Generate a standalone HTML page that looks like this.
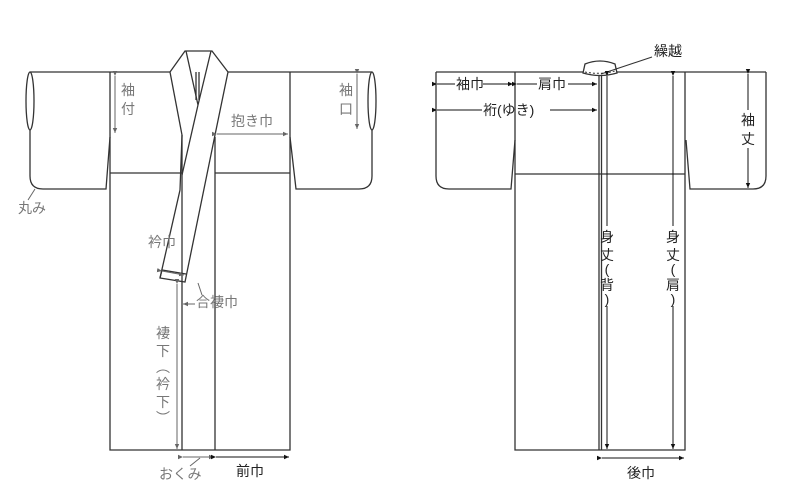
<!DOCTYPE html>
<html><head><meta charset="utf-8"><style>
html,body{margin:0;padding:0;background:#fff;}
svg{display:block;}
text{font-family:"Liberation Sans","Noto Sans CJK JP",sans-serif;font-size:14px;}
.g{fill:#777;}
.k{fill:#222;}
.c{text-anchor:middle;}
</style></head><body>
<svg width="800" height="500" viewBox="0 0 800 500" xmlns="http://www.w3.org/2000/svg">
<defs>
<marker id="ag" markerWidth="6" markerHeight="6" refX="5" refY="3" orient="auto" markerUnits="userSpaceOnUse"><path d="M0,0.8 L5,3 L0,5.2z" fill="#666"/></marker>
<marker id="ak" markerWidth="6" markerHeight="6" refX="5" refY="3" orient="auto" markerUnits="userSpaceOnUse"><path d="M0,0.8 L5,3 L0,5.2z" fill="#111"/></marker>
</defs>
<g fill="none" stroke="#333" stroke-width="1.3">
<path d="M30,72 L170,72"/>
<path d="M228,72 L372,72"/>
<ellipse cx="30" cy="101" rx="4" ry="29"/>
<path d="M30,130 L30,176 Q30,189 43,189 L106,189 L110,137"/>
<path d="M372,130 L372,176 Q372,189 359,189 L296,189 L290,137"/>
<ellipse cx="372" cy="101" rx="4" ry="29"/>
<path d="M110,72 L110,450 L290,450 L290,72"/>
<path d="M110,173 L182,173 M215,173 L290,173"/>
<path d="M182,135 L182,450 M215,137 L215,450"/>
<path d="M185,51 L212,51 L228,72 L215,135 L185,282 L160,278 L180,190 L182,135 L170,72 Z"/>
<path d="M186,51 L198,105 L211,51"/>
<path d="M196,72 L196,100 M199,72 L199,100"/>
<path d="M198,105 L182,175 M160,278 L162,270 L186,274"/>
<path d="M436,72 L583,72 M617,72 L766,72"/>
<path d="M436,72 L436,176 Q436,189 449,189 L511,189 L515,140"/>
<path d="M766,72 L766,176 Q766,189 753,189 L690,189 L686,140"/>
<path d="M515,72 L515,450 L685,450 L685,72"/>
<path d="M515,174 L685,174"/>
<path d="M599,76 L599,450 M601.5,76 L601.5,450"/>
<path d="M585,64 Q600,58 615,64 L617,73 Q600,78 583,73 Z"/>
</g>
<path d="M585,72 Q600,75 615,71" stroke="#333" stroke-width="1" stroke-dasharray="2,2" fill="none"/>
<line x1="601" y1="74" x2="652" y2="57" stroke="#333" stroke-width="1"/>
<line x1="35" y1="189" x2="28" y2="200" stroke="#666" stroke-width="1"/>
<line x1="198" y1="283" x2="202" y2="295" stroke="#666" stroke-width="1"/>
<g stroke="#666" stroke-width="1" fill="none">
<line x1="115" y1="76" x2="115" y2="133" marker-start="url(#ag)" marker-end="url(#ag)"/>
<line x1="357" y1="74" x2="357" y2="129" marker-start="url(#ag)" marker-end="url(#ag)"/>
<line x1="217" y1="134" x2="288" y2="134" marker-start="url(#ag)" marker-end="url(#ag)"/>
<line x1="162" y1="271" x2="184" y2="275" marker-start="url(#ag)" marker-end="url(#ag)"/>
<line x1="177" y1="284" x2="177" y2="449" marker-start="url(#ag)" marker-end="url(#ag)"/>
<line x1="195" y1="304" x2="183" y2="304" marker-end="url(#ag)"/>
<line x1="183" y1="457" x2="214" y2="457" marker-start="url(#ag)" marker-end="url(#ag)"/>
<line x1="200" y1="458" x2="190" y2="466"/>
</g>
<g stroke="#111" stroke-width="1" fill="none">
<line x1="216" y1="457" x2="289" y2="457" marker-start="url(#ak)" marker-end="url(#ak)"/>
<line x1="437" y1="84" x2="455" y2="84" marker-start="url(#ak)"/><line x1="483" y1="84" x2="513" y2="84" marker-end="url(#ak)"/>
<line x1="517" y1="84" x2="537" y2="84" marker-start="url(#ak)"/><line x1="568" y1="84" x2="597" y2="84" marker-end="url(#ak)"/>
<line x1="437" y1="110" x2="482" y2="110" marker-start="url(#ak)"/><line x1="550" y1="110" x2="597" y2="110" marker-end="url(#ak)"/>
<line x1="748" y1="74" x2="748" y2="110" marker-start="url(#ak)"/><line x1="748" y1="148" x2="748" y2="188" marker-end="url(#ak)"/>
<line x1="607" y1="76" x2="607" y2="226" marker-start="url(#ak)"/><line x1="607" y1="306" x2="607" y2="449" marker-end="url(#ak)"/>
<line x1="673" y1="76" x2="673" y2="226" marker-start="url(#ak)"/><line x1="673" y1="306" x2="673" y2="449" marker-end="url(#ak)"/>
<line x1="602" y1="458" x2="684" y2="458" marker-start="url(#ak)" marker-end="url(#ak)"/>
</g>
<text class="g c" x="128" y="95">袖</text><text class="g c" x="128" y="114">付</text>
<text class="g c" x="346" y="95">袖</text><text class="g c" x="346" y="114">口</text>
<text class="g" x="231" y="126">抱き巾</text>
<text class="g" x="18" y="213">丸み</text>
<text class="g" x="148" y="247">衿巾</text>
<text class="g" x="196" y="307">合褄巾</text>
<text class="g c" x="163" y="338">褄</text><text class="g c" x="163" y="356">下</text>
<text class="g c" x="163" y="372">︵</text><text class="g c" x="163" y="389">衿</text>
<text class="g c" x="163" y="407">下</text><text class="g c" x="163" y="423">︶</text>
<text class="g" x="159" y="479">おくみ</text>
<text class="k" x="236" y="476">前巾</text>
<text class="k" x="654" y="56">繰越</text>
<text class="k" x="456" y="89">袖巾</text>
<text class="k" x="538" y="89">肩巾</text>
<text class="k" x="483" y="115">裄(ゆき)</text>
<text class="k c" x="748" y="125">袖</text><text class="k c" x="748" y="144">丈</text>
<text class="k c" x="607" y="242">身</text><text class="k c" x="607" y="260">丈</text>
<text class="k c" x="607" y="274">(</text><text class="k c" x="607" y="290">背</text><text class="k c" x="607" y="304">)</text>
<text class="k c" x="673" y="242">身</text><text class="k c" x="673" y="260">丈</text>
<text class="k c" x="673" y="274">(</text><text class="k c" x="673" y="290">肩</text><text class="k c" x="673" y="304">)</text>
<text class="k" x="627" y="478">後巾</text>
</svg>
</body></html>
